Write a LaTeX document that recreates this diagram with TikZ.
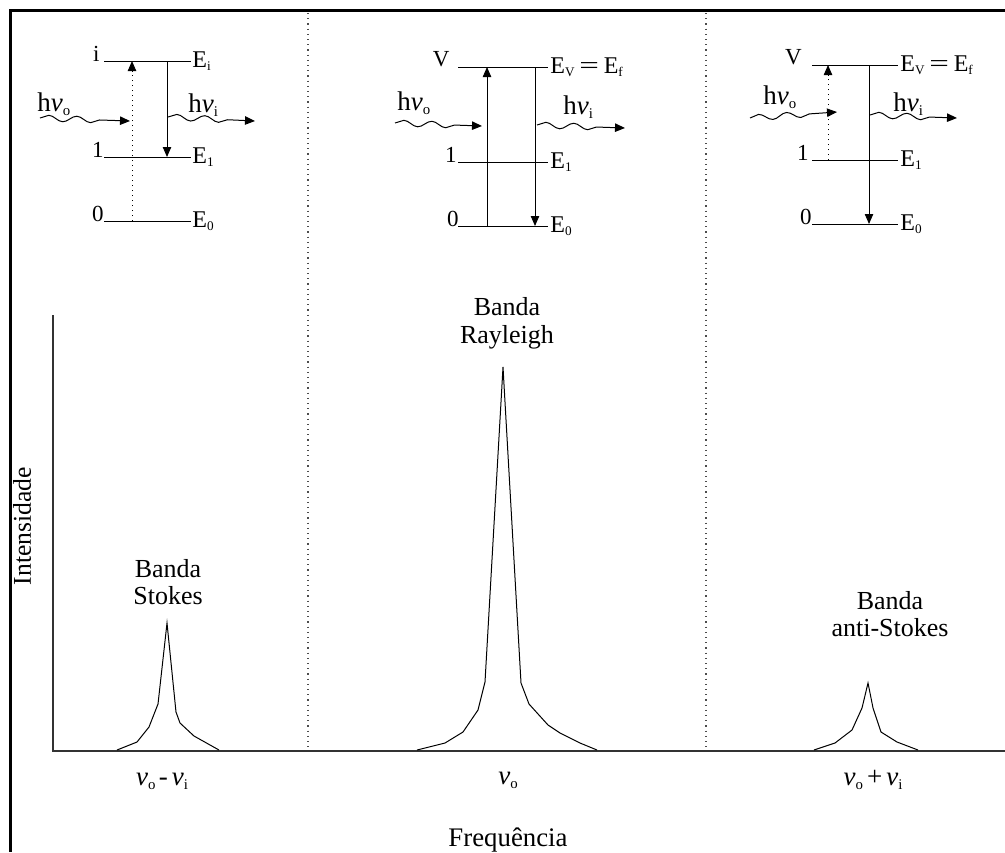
\documentclass[tikz,border=0pt]{standalone}
\usepackage{fontspec}
\setmainfont{Liberation Serif}
\usepackage{graphicx}
\usetikzlibrary{arrows.meta,decorations.pathmorphing}
\newcommand\lo[1]{\raisebox{-0.35ex}{\scalebox{0.55}{#1}}}
\newcommand\nuit{\textit{ν}}
\newcommand\eqw{\hspace{0.2em}\scalebox{1.45}[1]{=}\hspace{0.2em}}
\begin{document}
\begin{tikzpicture}[x=0.5pt,y=-0.5pt,
  frame/.style={line width=1.5pt,black},
  axisline/.style={line width=0.75pt,black!80},
  sep/.style={dotted,line width=0.6pt,black!70},
  lvl/.style={line width=0.5pt,black},
  lab/.style={font=\fontsize{11.5}{13}\selectfont,inner sep=0pt},
  elab/.style={font=\fontsize{12}{14}\selectfont,inner sep=0pt,anchor=base west},
  hlab/.style={font=\fontsize{13.5}{15}\selectfont,inner sep=0pt,anchor=base west},
  band/.style={font=\fontsize{13}{15}\selectfont,inner sep=0pt,anchor=base},
  tipped/.style={-{Triangle[length=5pt,width=4.2pt]}},
  trans/.style={tipped,line width=0.5pt,black},
  virt/.style={tipped,line width=0.5pt,black,dotted},
  wave/.style={tipped,line width=0.5pt,black,decorate,
     decoration={snake,amplitude=1.5pt,segment length=14pt,post length=12pt}},
  peak/.style={line width=0.5pt,black,line join=miter}]
\useasboundingbox (0,0) rectangle (1005,852);
% frame
\coordinate (ftl) at (10,10);
\coordinate (ftr) at (1005,10);
\coordinate (fbl) at (10,852);
\draw[frame] (ftr) -- (ftl) -- (fbl);
% separators
\coordinate (s1t) at (308,13); \coordinate (s1b) at (308,750);
\coordinate (s2t) at (706,13); \coordinate (s2b) at (706,750);
\draw[sep] (s1t) -- (s1b);
\draw[sep] (s2t) -- (s2b);
% axes
\coordinate (ytop) at (53,315);
\coordinate (orig) at (53,751);
\coordinate (xend) at (1005,751);
\draw[axisline] (ytop) -- (orig) -- (xend);

% ===== left: Stokes =====
\coordinate (LiL) at (104,61);  \coordinate (LiR) at (191,61);
\coordinate (L1L) at (104,157); \coordinate (L1R) at (191,157);
\coordinate (L0L) at (104,221); \coordinate (L0R) at (191,221);
\draw[lvl] (LiL) -- (LiR);
\draw[lvl] (L1L) -- (L1R);
\draw[lvl] (L0L) -- (L0R);
\node[lab,anchor=base east] (Lli) at (100,61) {i};
\node[lab,anchor=base east] (Ll1) at (104,157) {1};
\node[lab,anchor=base east] (Ll0) at (104,221) {0};
\node[elab] (LEi) at (192,67) {E\lo{i}};
\node[elab] (LE1) at (192,163) {E\lo{1}};
\node[elab] (LE0) at (192,227) {E\lo{0}};
\coordinate (Lua) at (132,221); \coordinate (Lub) at (132,61);
\draw[virt] (Lua) -- (Lub);
\coordinate (Lda) at (167,61); \coordinate (Ldb) at (167,157);
\draw[trans] (Lda) -- (Ldb);
\coordinate (Lwa) at (40,118); \coordinate (Lwb) at (130,121);
\draw[wave] (Lwa) -- (Lwb);
\coordinate (Lva) at (168,117); \coordinate (Lvb) at (255,121);
\draw[wave] (Lva) -- (Lvb);
\node[hlab] (Lho) at (37,111) {h\nuit\lo{o}};
\node[hlab] (Lhi) at (188,112) {h\nuit\lo{i}};

% ===== middle: Rayleigh =====
\coordinate (MvL) at (458,67);  \coordinate (MvR) at (548,67);
\coordinate (M1L) at (458,162); \coordinate (M1R) at (548,162);
\coordinate (M0L) at (458,226); \coordinate (M0R) at (548,226);
\draw[lvl] (MvL) -- (MvR);
\draw[lvl] (M1L) -- (M1R);
\draw[lvl] (M0L) -- (M0R);
\node[lab,anchor=base east] (Mlv) at (450,66) {V};
\node[lab,anchor=base east] (Ml1) at (457,162) {1};
\node[lab,anchor=base east] (Ml0) at (459,226) {0};
\node[elab] (MEv) at (550,73) {E\lo{V}\eqw E\lo{f}};
\node[elab] (ME1) at (550,168) {E\lo{1}};
\node[elab] (ME0) at (550,232) {E\lo{0}};
\coordinate (Mua) at (487,226); \coordinate (Mub) at (487,67);
\draw[trans] (Mua) -- (Mub);
\coordinate (Mda) at (535,67); \coordinate (Mdb) at (535,226);
\draw[trans] (Mda) -- (Mdb);
\coordinate (Mwa) at (395,123); \coordinate (Mwb) at (482,126);
\draw[wave] (Mwa) -- (Mwb);
\coordinate (Mva) at (537,125); \coordinate (Mvb) at (625,128);
\draw[wave] (Mva) -- (Mvb);
\node[hlab] (Mho) at (397,110) {h\nuit\lo{o}};
\node[hlab] (Mhi) at (563,114) {h\nuit\lo{i}};

% ===== right: anti-Stokes =====
\coordinate (RvL) at (812,65);  \coordinate (RvR) at (898,65);
\coordinate (R1L) at (812,160); \coordinate (R1R) at (898,160);
\coordinate (R0L) at (812,224); \coordinate (R0R) at (898,224);
\draw[lvl] (RvL) -- (RvR);
\draw[lvl] (R1L) -- (R1R);
\draw[lvl] (R0L) -- (R0R);
\node[lab,anchor=base east] (Rlv) at (802,64) {V};
\node[lab,anchor=base east] (Rl1) at (809,160) {1};
\node[lab,anchor=base east] (Rl0) at (812,224) {0};
\node[elab] (REv) at (900,71) {E\lo{V}\eqw E\lo{f}};
\node[elab] (RE1) at (900,166) {E\lo{1}};
\node[elab] (RE0) at (900,230) {E\lo{0}};
\coordinate (Rua) at (828,160); \coordinate (Rub) at (828,65);
\draw[virt] (Rua) -- (Rub);
\coordinate (Rda) at (869,65); \coordinate (Rdb) at (869,224);
\draw[trans] (Rda) -- (Rdb);
\coordinate (Rwa) at (750,118); \coordinate (Rwb) at (837,112);
\draw[wave] (Rwa) -- (Rwb);
\coordinate (Rva) at (870,115); \coordinate (Rvb) at (957,118);
\draw[wave] (Rva) -- (Rvb);
\node[hlab] (Rho) at (763,104) {h\nuit\lo{o}};
\node[hlab] (Rhi) at (893,111) {h\nuit\lo{i}};

% ===== peaks =====
\draw[peak] (117,750) -- (137,742) -- (149,727) -- (158,704) -- (167,623)
  -- (176,712) -- (180,723) -- (194,736) -- (219,750);
\draw[peak] (417,750) -- (445,743) -- (463,732) -- (478,710) -- (485,682)
  -- (503,367) -- (521,683) -- (529,704) -- (548,725) -- (560,733)
  -- (580,743) -- (597,750);
\draw[peak] (814,750) -- (835,743) -- (852,730) -- (862,708) -- (868,683)
  -- (873,708) -- (881,732) -- (897,742) -- (918,750);

% band labels
\node[band] (sb1) at (168,577) {Banda};
\node[band] (sb2) at (168,604) {Stokes};
\node[band] (rb1) at (507,315) {Banda};
\node[band] (rb2) at (507,343) {Rayleigh};
\node[band] (ab1) at (890,609) {Banda};
\node[band] (ab2) at (890,636) {anti-Stokes};

% axis labels
\node[band,font=\fontsize{13.5}{16}\selectfont] (x1) at (162,785) {\nuit\lo{o}\hspace{0.12em}-\hspace{0.15em}\nuit\lo{i}};
\node[band,font=\fontsize{13.5}{16}\selectfont] (x2) at (508,784) {\nuit\lo{o}};
\node[band,font=\fontsize{13.5}{16}\selectfont] (x3) at (873,785) {\nuit\lo{o}\hspace{0.15em}+\hspace{0.15em}\nuit\lo{i}};
\node[band,font=\fontsize{13.4}{15}\selectfont] (xl) at (508,846) {Frequência};
\node[band,font=\fontsize{12.8}{15}\selectfont,anchor=center,rotate=90] (yl) at (22,526) {Intensidade};
\end{tikzpicture}
\end{document}
